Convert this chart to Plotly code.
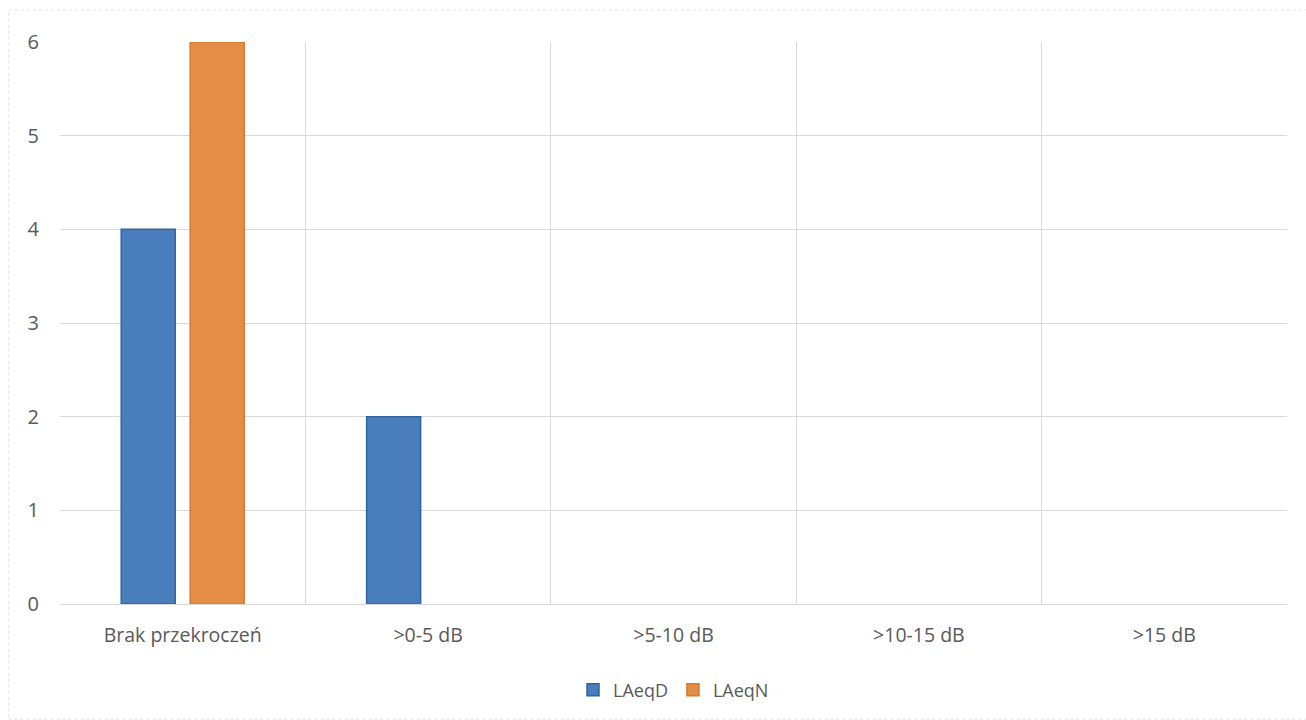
import plotly.graph_objects as go

categories = ["Brak przekroczeń", ">0-5 dB", ">5-10 dB", ">10-15 dB", ">15 dB"]
laeqd = [4, 2, 0, 0, 0]
laeqn = [6, 0, 0, 0, 0]

FONT = "Open Sans"
TEXT = "#595959"
GRID = "#d9d9d9"


def outline_widths(values):
    # empty bars get no outline so nothing shows on the baseline
    return [1.5 if v else 0 for v in values]


fig = go.Figure()
fig.add_trace(go.Bar(
    name="LAeqD", x=categories, y=laeqd,
    marker=dict(color="#4a7dbb", line=dict(color="#30639f", width=outline_widths(laeqd))),
))
fig.add_trace(go.Bar(
    name="LAeqN", x=categories, y=laeqn,
    marker=dict(color="#e38d47", line=dict(color="#d9782a", width=outline_widths(laeqn))),
))

fig.update_layout(
    width=1306, height=720,
    margin=dict(l=60, r=19, t=42, b=116),
    paper_bgcolor="white", plot_bgcolor="white",
    barmode="group", bargap=0.438, bargroupgap=0.217,
    font=dict(family=FONT, size=18, color=TEXT),
    showlegend=True,
    legend=dict(orientation="h", x=0.5, xanchor="center", y=-0.153, yanchor="middle",
                font=dict(size=18, color=TEXT), itemwidth=30, traceorder="normal"),
    xaxis=dict(
        type="category", tickson="boundaries", showgrid=True, gridcolor=GRID, gridwidth=1,
        ticks="", showline=True, linecolor=GRID, mirror=False,
        tickfont=dict(size=19.5, color=TEXT), ticklabelstandoff=14,
    ),
    yaxis=dict(
        range=[0, 6], dtick=1, showgrid=True, gridcolor=GRID, gridwidth=1,
        zeroline=False, ticks="", showline=False,
        tickfont=dict(size=20, color=TEXT), ticklabelstandoff=20,
    ),
    shapes=[dict(type="rect", xref="paper", yref="paper", x0=-0.042, x1=1.02, y0=-0.205, y1=1.057,
                 line=dict(color="#e4e4e4", width=1, dash="dot"), layer="below")],
)

fig.write_html("out.html")
